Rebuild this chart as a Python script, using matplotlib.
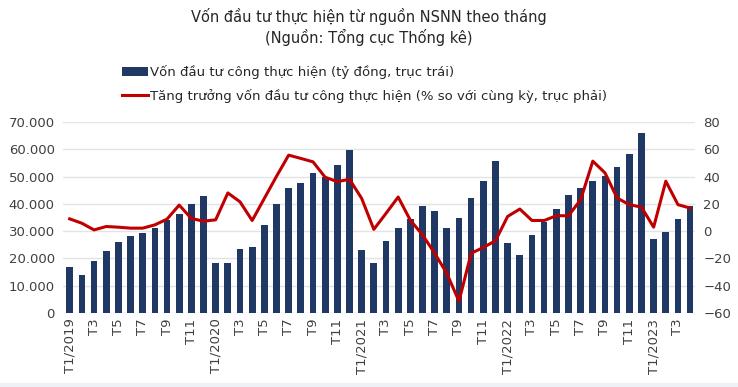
import numpy as np
import matplotlib
matplotlib.use("Agg")
import matplotlib.pyplot as plt
from matplotlib.patches import Rectangle

# monthly data T1/2019 .. T4/2023
years = [2019, 2020, 2021, 2022, 2023]
months_in_year = [12, 12, 12, 12, 4]

von_dau_tu = [  # ty dong, left axis
    17000, 14100, 19200, 22700, 25900, 28400, 29200, 31200, 34000, 36100, 40000, 43000,
    18500, 18300, 23300, 24300, 32100, 40000, 45700, 47700, 51400, 49900, 54400, 59700,
    23000, 18200, 26300, 31000, 34400, 39100, 37200, 31300, 35000, 42000, 48500, 55700,
    25700, 21400, 28600, 33300, 38100, 43400, 45800, 48300, 50100, 53600, 58400, 65800,
    27000, 29700, 34500, 39100,
]
tang_truong = [  # % yoy, right axis
    9.0, 5.8, 0.9, 3.4, 2.9, 2.2, 2.2, 4.6, 8.8, 19.1, 9.3, 7.3,
    8.3, 28.0, 21.5, 7.8, 24.0, 40.2, 55.7, 53.3, 50.8, 39.5, 36.3, 38.0,
    24.0, 1.3, 13.0, 25.0, 8.0, -2.7, -16.2, -31.0, -51.4, -16.2, -12.0, -7.0,
    10.8, 16.2, 7.8, 7.8, 11.3, 11.3, 23.0, 51.3, 42.7, 24.3, 19.4, 17.6,
    2.9, 36.6, 19.4, 16.9,
]

month_labels = []
for y, n in zip(years, months_in_year):
    for m in range(1, n + 1):
        month_labels.append(f"T{m}/{y}" if m == 1 else f"T{m}")

title = "Vốn đầu tư thực hiện từ nguồn NSNN theo tháng\n(Nguồn: Tổng cục Thống kê)"
bar_label = "Vốn đầu tư công thực hiện (tỷ đồng, trục trái)"
line_label = "Tăng trưởng vốn đầu tư công thực hiện (% so với cùng kỳ, trục phải)"

W, H = 738, 387
fig = plt.figure(figsize=(W / 100, H / 100), dpi=100)
plt.rcParams['font.family'] = ['DejaVu Sans']

x = np.arange(len(von_dau_tu))
ax = fig.add_axes([63 / W, (H - 313) / H, (695 - 63) / W, (313 - 122) / H])
ax2 = ax.twinx()

bars = ax.bar(x, von_dau_tu, width=0.55, color="#203864", zorder=3)
ax.set_ylim(0, 70000)
ax.set_yticks(np.arange(0, 70001, 10000))
ax.set_yticklabels([f"{v:,}".replace(",", ".") for v in range(0, 70001, 10000)])
ax.grid(axis="y", color="#e3e3e3", linewidth=1, zorder=0)
ax.set_xlim(-0.55, len(x) - 0.6)

line, = ax2.plot(x, tang_truong, color="#c00000", linewidth=2.2, zorder=4)
ax2.set_ylim(-60, 80)
ax2.set_yticks(np.arange(-60, 81, 20))

tick_pos = x[::2]
ax.set_xticks(tick_pos)
ax.set_xticklabels([month_labels[i] for i in tick_pos], rotation=90)

for a in (ax, ax2):
    for s in a.spines.values():
        s.set_visible(False)
    a.tick_params(length=0, labelsize=9.5, colors="#404040")
ax.tick_params(axis="y", pad=6)
ax2.tick_params(axis="y", pad=6)
ax.tick_params(axis="x", pad=4)

fig.text(0.5, 1 - 27 / H, title, ha="center", va="center", fontsize=10.5,
         color="#262626", linespacing=1.3)

fig.legend([bars, line], [bar_label, line_label], loc="upper left",
           bbox_to_anchor=(110 / W, 1 - 53 / H), frameon=False, fontsize=9.5,
           handlelength=2.0, handletextpad=0.1, labelspacing=0.75,
           labelcolor="#262626")

fig.patches.append(Rectangle((0, 0), 1, 4 / H, transform=fig.transFigure,
                             color="#eef2f6", zorder=0))

fig.savefig("out.png", dpi=100)
